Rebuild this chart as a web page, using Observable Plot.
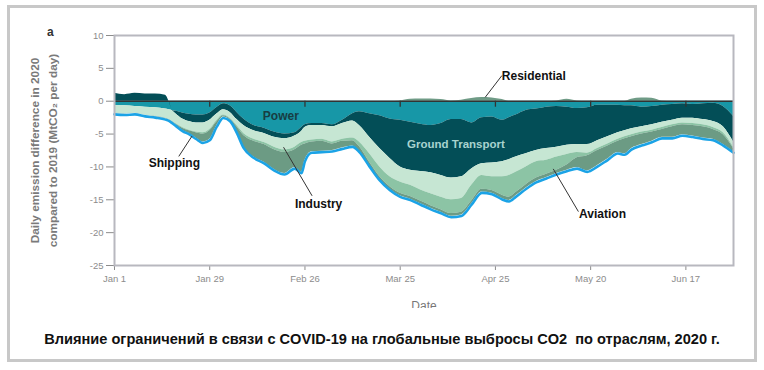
<!DOCTYPE html>
<html><head><meta charset="utf-8">
<script src="https://cdn.jsdelivr.net/npm/d3@7"></script>
<script src="https://cdn.jsdelivr.net/npm/@observablehq/plot@0.6"></script>
<style>
body{margin:0;background:#fff;font-family:"Liberation Sans",Arial,sans-serif;}
#border{position:absolute;left:7px;top:5px;width:750px;height:357px;border:3px solid #c8c8c8;box-sizing:border-box;}
#chart{position:absolute;left:0;top:0;width:764px;height:308px;overflow:hidden;}
#panel{position:absolute;left:47px;top:25px;font-weight:bold;font-size:12px;color:#333;}
#caption{position:absolute;left:0;width:764px;top:331px;text-align:center;font-weight:bold;font-size:14.6px;color:#111;white-space:pre;}
</style></head><body>
<div id="border"></div>
<div id="chart"></div>
<div id="panel">a</div>
<div id="caption">Влияние ограничений в связи с COVID-19 на глобальные выбросы CO2  по отраслям, 2020 г.</div>
<script>
// ---- data (day index from Jan 1, MtCO2 per day difference) ----
const days = [0,3,6,9,12,15,16,17,18,20,22,24,26,28,30,32,34,36,38,41,44,47,50,53,55,56,58,61,64,67,70,72,75,78,81,84,87,90,93,96,99,102,105,108,111,114,116,118,121,124,127,130,133,136,139,142,145,148,150,152,155,158,161,164,167,170,173,176,179,182];
const power = [-0.7,-0.7,-0.8,-0.9,-1.0,-1.2,-1.3,-1.4,-1.5,-1.8,-2.0,-2.1,-2.1,-1.8,-1.0,-0.4,-0.7,-1.7,-2.7,-3.7,-4.1,-4.7,-5.0,-4.8,-4.0,-3.6,-3.4,-3.4,-3.6,-2.9,-1.9,-1.6,-1.9,-2.2,-2.7,-2.9,-3.2,-3.5,-3.7,-3.4,-2.8,-2.8,-3.3,-2.5,-2.4,-2.9,-2.5,-2.1,-1.4,-1.2,-0.9,-0.8,-0.9,-1.1,-1.0,-0.6,-0.6,-0.6,-0.7,-0.7,-0.9,-0.8,-0.6,-0.5,-0.4,-0.5,-0.4,-0.3,-0.8,-2.3];
const groundTransport = [1.2,1.0,1.2,1.1,1.1,0.9,0,-0.05,-0.4,-0.9,-1.1,-1.2,-1.2,-1.1,-1.0,-0.9,-1.0,-1.1,-1.0,-0.8,-0.8,-0.8,-0.7,-0.5,-0.6,-0.4,-0.3,-0.3,-0.3,-0.5,-1.1,-2.1,-3.6,-5.0,-6.0,-7.1,-7.3,-7.2,-7.2,-7.9,-8.9,-8.7,-7.0,-7.0,-7.0,-6.3,-6.4,-6.4,-6.6,-6.3,-6.3,-6.2,-5.8,-5.5,-5.6,-5.4,-4.8,-4.2,-3.8,-3.5,-3.0,-2.8,-2.6,-2.4,-2.2,-2.1,-2.4,-2.8,-3.1,-3.9];
const industry = [-1.1,-1.2,-1.0,-1.2,-1.3,-1.4,-1.5,-1.65,-1.5,-1.3,-1.3,-1.4,-1.5,-1.4,-1.0,-0.8,-0.9,-0.9,-1.2,-1.3,-1.4,-1.5,-1.7,-1.7,-1.7,-2.1,-2.2,-2.1,-2.3,-2.4,-2.6,-2.5,-2.5,-2.8,-2.8,-2.3,-2.3,-2.8,-3.2,-3.3,-3.3,-3.3,-2.5,-1.8,-2.1,-2.3,-2.4,-2.3,-2.0,-1.7,-1.8,-1.5,-1.4,-1.2,-1.3,-1.2,-1.1,-1.0,-0.9,-0.9,-0.8,-0.8,-0.8,-0.7,-0.7,-0.8,-0.8,-0.9,-0.9,-0.8];
const aviation = [-0.02,-0.02,-0.02,-0.02,-0.02,-0.02,-0.02,-0.05,-0.1,-0.1,-0.1,-0.1,-0.2,-0.2,-0.2,-0.1,-0.1,-0.2,-0.3,-0.3,-0.3,-0.4,-0.4,-0.4,-0.4,-0.4,-0.3,-0.3,-0.3,-0.3,-0.4,-0.7,-1.3,-1.5,-1.5,-1.7,-1.7,-1.7,-1.8,-1.9,-2.1,-2.1,-2.4,-2.1,-2.1,-2.8,-3.3,-3.1,-2.7,-2.5,-2.1,-2.0,-1.6,-0.8,-0.4,-0.3,-0.3,-0.3,-0.3,-0.3,-0.3,-0.3,-0.3,-0.3,-0.3,-0.3,-0.3,-0.3,-0.3,-0.2];
const shipping = [-0.03,-0.03,-0.03,-0.03,-0.03,-0.03,-0.03,-0.05,-0.1,-0.3,-0.4,-0.8,-1.2,-1.3,-0.6,-0.2,-0.2,-0.8,-1.8,-2.4,-2.7,-3.0,-3.2,-2.7,-4.1,-2.5,-1.5,-1.5,-1.0,-1.0,-0.8,-0.7,-0.5,-0.4,-0.4,-0.4,-0.4,-0.4,-0.4,-0.4,-0.4,-0.4,-0.4,-0.4,-0.4,-0.5,-0.5,-0.5,-0.5,-0.5,-0.5,-0.5,-0.8,-1.5,-2.3,-2.3,-2.0,-1.7,-2.3,-1.8,-1.6,-1.4,-1.2,-1.6,-1.5,-1.6,-1.7,-1.5,-1.5,-0.5];
const residential = [0,0,0,0,0,0,0,0,0,0,0,0,0,0,0,0,0,0,0,0,0,0,0,0,0,0,0,0,0,0,0,0,0,0,0,0.05,0.3,0.35,0.35,0.25,0.05,0.15,0.4,0.55,0.5,0.25,0,0,0,0,0,0.05,0.3,0.05,0,0,0,0,0,0.3,0.5,0.45,0.05,0,0,0,0,0,0,0];

const sectors = ["Power","Ground Transport","Industry","Aviation","Shipping","Residential"];
const sectorValues = [power, groundTransport, industry, aviation, shipping, residential];
const sectorColors = ["#1797a7","#034e57","#c6e6d3","#8cc4a5","#6c9b84","#6f9b86"];

const tickDays = [0,28,56,84,112,140,168];
const tickLabels = ["Jan 1","Jan 29","Feb 26","Mar 25","Apr 25","May 20","Jun 17"];
const yTicks = [10,5,0,-5,-10,-15,-20,-25];

const annotations = [
  {label:"Power", day:48.9, value:-2.3},
  {label:"Ground Transport", day:100.4, value:-6.55},
  {label:"Shipping", day:17.6, value:-9.5},
  {label:"Industry", day:60, value:-15.6},
  {label:"Aviation", day:143.5, value:-17.2},
  {label:"Residential", day:123.3, value:3.75}
];
const pointers = [
  {day1:18.9, value1:-8.4, day2:22.8, value2:-5.3},
  {day1:58.1, value1:-14.4, day2:49.7, value2:-7.0},
  {day1:136.4, value1:-16.8, day2:129, value2:-10.3},
  {day1:113.9, value1:3.9, day2:109, value2:0.6}
];

// ---- build tables ----
const rows = [];
sectors.forEach((s, k) => days.forEach((d, i) => rows.push({day:d, sector:s, value:sectorValues[k][i]})));
const totals = days.map((d, i) => ({day:d, total: d3.sum(sectorValues, arr => arr[i] < 0 ? arr[i] : 0)}));

const darkLabels = ["Shipping","Industry","Aviation","Residential"];

const chart = Plot.plot({
  width: 764, height: 310,
  marginLeft: 114, marginRight: 31, marginTop: 35, marginBottom: 45,
  style: {fontFamily: "Liberation Sans, Arial, sans-serif", fontSize: "9.5px", color: "#8c8c8c", background: "transparent"},
  x: {domain: [0, 182], ticks: tickDays, tickFormat: d => tickLabels[tickDays.indexOf(d)], tickSize: 5, tickPadding: 5, label: null},
  y: {domain: [-25, 10], ticks: yTicks, tickFormat: d => String(d), tickSize: 8, tickPadding: 3, label: null},
  color: {domain: sectors, range: sectorColors},
  marks: [
    Plot.areaY(rows, {x: "day", y: "value", fill: "sector", z: "sector", order: sectors, curve: "monotone-x"}),
    Plot.lineY(totals, {x: "day", y: "total", stroke: "#1ba3e6", strokeWidth: 2.6, curve: "monotone-x", dy: 1}),
    Plot.ruleY([0], {stroke: "#333", strokeWidth: 1.5}),
    Plot.ruleX(tickDays.slice(1), {y1: 0, y2: 0, insetBottom: -6, stroke: "#333", strokeWidth: 1.3}),
    Plot.frame({stroke: "#b8b8bf", strokeWidth: 2}),
    Plot.link(pointers, {x1: "day1", y1: "value1", x2: "day2", y2: "value2", stroke: "#333", strokeWidth: 1}),
    Plot.text(annotations, {filter: d => darkLabels.includes(d.label), x: "day", y: "value", text: "label", fill: "#111", fontWeight: "bold", fontSize: 12}),
    Plot.text(annotations, {filter: d => d.label === "Power", x: "day", y: "value", text: "label", fill: "#173d42", fontWeight: "bold", fontSize: 12}),
    Plot.text(annotations, {filter: d => d.label === "Ground Transport", x: "day", y: "value", text: "label", fill: "#a8d3cf", fontWeight: "bold", fontSize: 11.5}),
    Plot.text(["Daily emission difference in 2020\ncompared to 2019 (MtCO\u2082 per day)"], {text: d => d, frameAnchor: "left", dx: -72, rotate: -90, textAnchor: "middle", lineAnchor: "middle", lineHeight: 1.5, fontWeight: "bold", fontSize: 11.8, fill: "#7a7a7a"}),
    Plot.text(["Date"], {text: d => d, frameAnchor: "bottom", dy: 36, lineAnchor: "top", fontSize: 12, fill: "#777"})
  ]
});
document.getElementById("chart").appendChild(chart);
</script>
</body></html>
